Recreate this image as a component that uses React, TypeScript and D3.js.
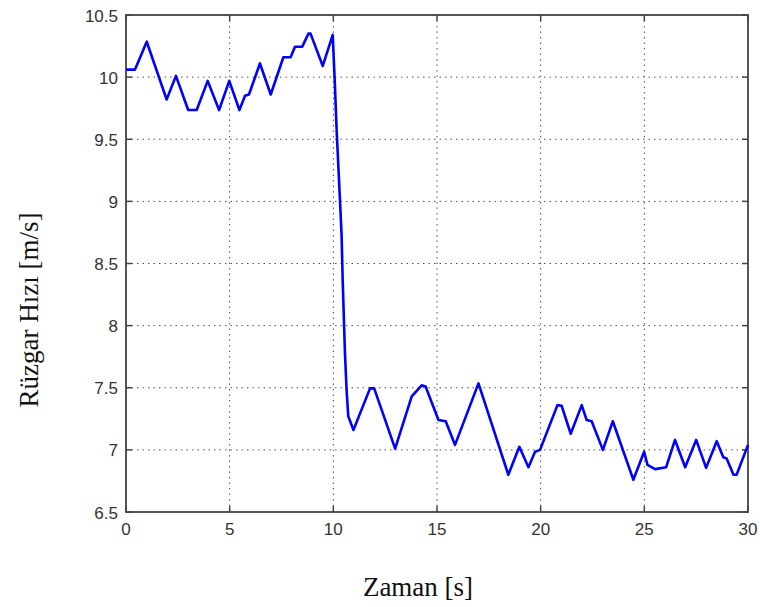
import React from "react";
import * as d3 from "d3";

const timeS = [0, 0.43, 1.0, 1.96, 2.41, 3.0, 3.41, 3.94, 4.49, 4.98, 5.47, 5.74, 5.93, 6.46, 6.98, 7.59, 7.94, 8.15, 8.5, 8.8, 8.9, 9.49, 9.97, 10.08, 10.16, 10.32, 10.4, 10.45, 10.56, 10.64, 10.72, 10.97, 11.77, 11.97, 12.98, 13.78, 14.26, 14.45, 15.07, 15.42, 15.87, 17.0, 18.44, 18.97, 19.41, 19.73, 19.97, 20.81, 21.01, 21.45, 21.98, 22.22, 22.46, 23.0, 23.48, 24.47, 24.99, 25.15, 25.52, 26.05, 26.48, 26.97, 27.5, 27.98, 28.49, 28.81, 28.97, 29.3, 29.45, 30.0];
const speed = [10.06, 10.06, 10.285, 9.82, 10.01, 9.735, 9.735, 9.97, 9.735, 9.97, 9.735, 9.85, 9.86, 10.11, 9.86, 10.16, 10.16, 10.245, 10.245, 10.35, 10.35, 10.09, 10.34, 9.92, 9.57, 9.01, 8.72, 8.37, 7.78, 7.48, 7.27, 7.16, 7.495, 7.495, 7.01, 7.43, 7.52, 7.51, 7.24, 7.23, 7.04, 7.535, 6.8, 7.025, 6.86, 6.985, 7.0, 7.36, 7.355, 7.13, 7.36, 7.24, 7.23, 7.0, 7.23, 6.76, 6.985, 6.88, 6.845, 6.86, 7.08, 6.86, 7.08, 6.855, 7.07, 6.94, 6.93, 6.8, 6.8, 7.04];
const xTicks = [0, 5, 10, 15, 20, 25, 30];
const yTicks = [6.5, 7, 7.5, 8, 8.5, 9, 9.5, 10, 10.5];
const xLabel = "Zaman [s]";
const yLabel = "Rüzgar Hızı [m/s]";

export default function App() {
  const W = 760, H = 607;
  const L = 126, R = 748, T = 15, B = 512;
  const x = d3.scaleLinear().domain([0, 30]).range([L, R]);
  const y = d3.scaleLinear().domain([6.5, 10.5]).range([B, T]);
  const pts: [number, number][] = timeS.map((t, i) => [t, speed[i]]);
  const line = d3.line<[number, number]>().x(d => x(d[0])).y(d => y(d[1]));
  const axisColor = "#444";
  const tickLen = 6;
  const tickFont = "Liberation Sans, Arial, sans-serif";
  const labelFont = "Liberation Serif, Times New Roman, serif";
  return (
    <svg width={W} height={H} style={{ position: "absolute", left: 0, top: 0, background: "#fff" }}>
      <rect x={0} y={0} width={W} height={H} fill="#fff" />
      {xTicks.slice(1, -1).map(t => (
        <line key={"gx" + t} x1={x(t)} x2={x(t)} y1={T} y2={B} stroke="#555" strokeWidth={1} strokeDasharray="1.5,4" />
      ))}
      {yTicks.slice(1, -1).map(t => (
        <line key={"gy" + t} x1={L} x2={R} y1={y(t)} y2={y(t)} stroke="#555" strokeWidth={1} strokeDasharray="1.5,4" />
      ))}
      {xTicks.map(t => (
        <g key={"tx" + t}>
          <line x1={x(t)} x2={x(t)} y1={B} y2={B - tickLen} stroke={axisColor} strokeWidth={1.5} />
          <line x1={x(t)} x2={x(t)} y1={T} y2={T + tickLen} stroke={axisColor} strokeWidth={1.5} />
          <text x={x(t)} y={B + 23} textAnchor="middle" fontFamily={tickFont} fontSize={17} fill="#333">{t}</text>
        </g>
      ))}
      {yTicks.map(t => (
        <g key={"ty" + t}>
          <line x1={L} x2={L + tickLen} y1={y(t)} y2={y(t)} stroke={axisColor} strokeWidth={1.5} />
          <line x1={R} x2={R - tickLen} y1={y(t)} y2={y(t)} stroke={axisColor} strokeWidth={1.5} />
          <text x={L - 8} y={y(t) + 6.5} textAnchor="end" fontFamily={tickFont} fontSize={17} fill="#333">{t}</text>
        </g>
      ))}
      <rect x={L} y={T} width={R - L} height={B - T} fill="none" stroke={axisColor} strokeWidth={1.8} />
      <path d={line(pts) || ""} fill="none" stroke="#0000ff" strokeWidth={2.6} strokeLinejoin="round" />
      <text x={418} y={596} textAnchor="middle" fontFamily={labelFont} fontSize={27} fill="#111">{xLabel}</text>
      <text transform={`translate(38, 310) rotate(-90)`} textAnchor="middle" fontFamily={labelFont} fontSize={27} fill="#111">{yLabel}</text>
    </svg>
  );
}
